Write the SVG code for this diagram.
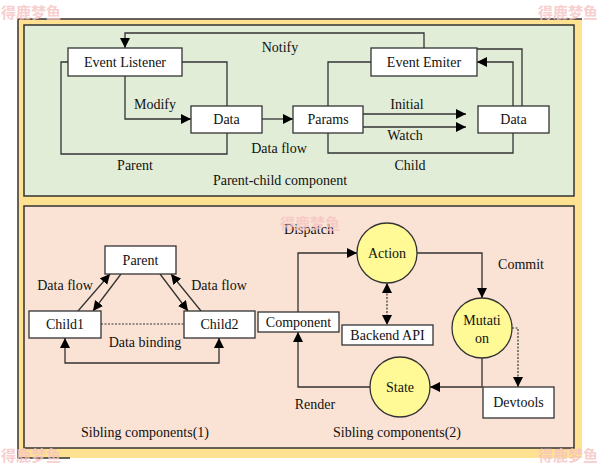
<svg xmlns="http://www.w3.org/2000/svg" width="597" height="469" viewBox="0 0 597 469">
<defs>
<marker id="ah" markerUnits="userSpaceOnUse" markerWidth="11" markerHeight="10" refX="10" refY="5" orient="auto-start-reverse">
<path d="M0,0 L10,5 L0,10 Z" fill="#000"/>
</marker>
<style>
.t{font-family:"Liberation Serif","Times New Roman",serif;font-size:14px;fill:#111;text-anchor:middle;dominant-baseline:central}
.box{fill:#fff;stroke:#333;stroke-width:1.3}
.cir{fill:#FFFA96;stroke:#333;stroke-width:1.3}
.ln{fill:none;stroke:#333;stroke-width:1.3}
.dot{fill:none;stroke:#333;stroke-width:1.2;stroke-dasharray:2 1.5}
.arr{marker-end:url(#ah)}
.wm{font-family:"Noto Sans CJK SC",sans-serif;font-size:15px;font-weight:bold;fill:#F6C4C4}
</style>
</defs>
<rect width="597" height="469" fill="#fff"/>
<!-- frame -->
<rect x="18" y="19" width="564" height="439" fill="#FFE291"/>
<path d="M582,19 H18 V458 H70" fill="none" stroke="#333" stroke-width="1.5"/>
<rect x="24" y="25" width="550" height="171" fill="#E2EDD8" stroke="#333" stroke-width="1.5"/>
<rect x="24" y="206" width="550" height="242" fill="#FAE3D5" stroke="#333" stroke-width="1.5"/>

<g id="connectors">
<path class="ln arr" d="M424,48 V33 H125 V48"/>
<path class="ln arr" d="M125,76 V119 H191"/>
<path class="ln" d="M182,62 H227 V106"/>
<path class="ln" d="M68,62 H61 V154 H227 V133"/>
<path class="ln arr" d="M262,119 H293"/>
<path class="ln arr" d="M363,114 H466"/>
<path class="ln arr" d="M363,127 H466" stroke-width="1.8"/>
<path class="ln" d="M328,106 V62 H371"/>
<path class="ln" d="M328,133 V153 H513 V133"/>
<path class="ln arr" d="M513,106 V62 H477"/>
<path class="ln" d="M522,106 V49 H477"/>
<path class="ln arr" d="M78,311 L110,274"/>
<path class="ln arr" d="M121,274 L93,311"/>
<path class="ln arr" d="M160,274 L188,311"/>
<path class="ln arr" d="M201,311 L171,274"/>
<path class="dot" d="M101,324 H184"/>
<path class="ln arr" d="M65,338 V363 H219 V338" style="marker-start:url(#ah)"/>
<path class="ln arr" d="M298,312 V253 H357"/>
<path class="ln arr" d="M417,253 H482 V298"/>
<path class="dot arr" d="M387,283 V325" style="marker-start:url(#ah)"/>
<path class="ln arr" d="M482,358 V387 H430"/>
<path class="dot arr" d="M512,328 H518 V387"/>
<path class="ln arr" d="M370,387 H298 V332"/>
</g>

<g id="event-listener"><rect class="box" x="68" y="48" width="114" height="28"/><text class="t" x="125" y="62">Event Listener</text></g>
<g id="data-parent"><rect class="box" x="191" y="106" width="71" height="27"/><text class="t" x="226.5" y="119.5">Data</text></g>
<g id="params"><rect class="box" x="293" y="106" width="70" height="27"/><text class="t" x="328" y="119.5">Params</text></g>
<g id="event-emiter"><rect class="box" x="371" y="48" width="106" height="28"/><text class="t" x="424" y="62">Event Emiter</text></g>
<g id="data-child"><rect class="box" x="478" y="106" width="71" height="27"/><text class="t" x="513.5" y="119.5">Data</text></g>

<g id="parent"><rect class="box" x="105" y="246" width="71" height="28"/><text class="t" x="140.5" y="260">Parent</text></g>
<g id="child1"><rect class="box" x="29" y="311" width="72" height="27"/><text class="t" x="65" y="324.5">Child1</text></g>
<g id="child2"><rect class="box" x="184" y="311" width="71" height="27"/><text class="t" x="219.5" y="324.5">Child2</text></g>

<g id="component"><rect class="box" x="258" y="312" width="81" height="20"/><text class="t" x="298.5" y="322">Component</text></g>
<g id="action"><circle class="cir" cx="387" cy="253" r="30"/><text class="t" x="387" y="253">Action</text></g>
<g id="mutation"><circle class="cir" cx="482" cy="328" r="30"/><text class="t" x="482" y="320">Mutati</text><text class="t" x="482" y="338">on</text></g>
<g id="state"><circle class="cir" cx="400" cy="387" r="30"/><text class="t" x="400" y="387">State</text></g>
<g id="backend-api"><rect class="box" x="342" y="325" width="91" height="20"/><text class="t" x="387.5" y="335">Backend API</text></g>
<g id="devtools"><rect class="box" x="483" y="387" width="71" height="31"/><text class="t" x="518.5" y="402.5">Devtools</text></g>

<g id="labels">
<text class="t" x="280" y="47">Notify</text>
<text class="t" x="155" y="104">Modify</text>
<text class="t" x="135" y="165">Parent</text>
<text class="t" x="279" y="148">Data flow</text>
<text class="t" x="280" y="180">Parent-child component</text>
<text class="t" x="407" y="104">Initial</text>
<text class="t" x="405" y="135">Watch</text>
<text class="t" x="410" y="165">Child</text>
<text class="t" x="65" y="285">Data flow</text>
<text class="t" x="219" y="285">Data flow</text>
<text class="t" x="145" y="342">Data binding</text>
<text class="t" x="145" y="432">Sibling components(1)</text>
<text class="t" x="309" y="229">Dispatch</text>
<text class="t" x="521" y="264">Commit</text>
<text class="t" x="315" y="404">Render</text>
<text class="t" x="397" y="432">Sibling components(2)</text>
</g>

<g id="watermarks" opacity="0.8">
<text class="wm" x="1" y="18">得鹿梦鱼</text>
<text class="wm" x="538" y="18">得鹿梦鱼</text>
<text class="wm" x="1" y="461">得鹿梦鱼</text>
<text class="wm" x="538" y="461">得鹿梦鱼</text>
<text class="wm" x="280" y="229">得鹿梦鱼</text>
</g>
</svg>
